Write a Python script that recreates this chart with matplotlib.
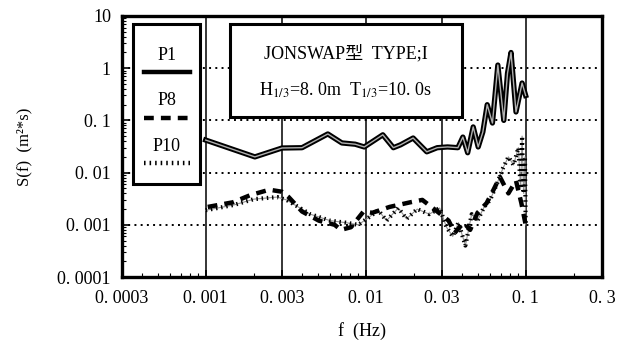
import matplotlib
matplotlib.use("Agg")
import matplotlib.pyplot as plt
from matplotlib.patches import Rectangle

plt.rcParams["font.family"] = ["Liberation Serif", "Noto Sans CJK JP"]
plt.rcParams["mathtext.fontset"] = "stix"

# ── data ───────────────────────────────────────────────────────────────────────
p1_f = [0.001, 0.00203, 0.003, 0.0040, 0.0058, 0.0071, 0.0086, 0.0098, 0.0128,
        0.0149, 0.0165, 0.0198, 0.0241, 0.028, 0.0325, 0.0377, 0.0405, 0.0434,
        0.047, 0.0505, 0.054, 0.0575, 0.062, 0.067, 0.073, 0.077, 0.081, 0.087,
        0.095, 0.1]
p1_s = [0.042, 0.020, 0.0296, 0.030, 0.055, 0.037, 0.035, 0.031, 0.053,
        0.030, 0.034, 0.046, 0.025, 0.030, 0.031, 0.030, 0.048, 0.024,
        0.075, 0.031, 0.06, 0.20, 0.089, 1.15, 0.10, 0.8, 2.0, 0.145,
        0.52, 0.3]

p8_f = [0.00103, 0.00148, 0.0019, 0.0025, 0.003, 0.0033, 0.004, 0.0051, 0.0064,
        0.007, 0.0081, 0.0097, 0.011, 0.0141, 0.019, 0.0226, 0.028, 0.033,
        0.036, 0.041, 0.045, 0.050, 0.057, 0.063, 0.069, 0.078, 0.087, 0.094, 0.1]
p8_s = [0.0022, 0.0027, 0.0037, 0.0047, 0.0043, 0.0034, 0.0018, 0.0012, 0.0010,
        0.0008, 0.0009, 0.0018, 0.0017, 0.0022, 0.0027, 0.003, 0.0018, 0.0012,
        0.0007, 0.0011, 0.0008, 0.0017, 0.0026, 0.0047, 0.0083, 0.004, 0.007,
        0.0026, 0.001]

p10_f = [0.001, 0.0015, 0.002, 0.0028, 0.0032, 0.0045, 0.006, 0.0075, 0.009,
         0.0105, 0.012, 0.0135, 0.016, 0.018, 0.021, 0.025, 0.029, 0.032, 0.035,
         0.038, 0.042, 0.046, 0.05, 0.055, 0.06, 0.066, 0.072, 0.078, 0.084,
         0.09, 0.093, 0.095, 0.097, 0.099, 0.1]
p10_s = [0.0019, 0.0024, 0.0031, 0.0034, 0.0030, 0.0016, 0.0012, 0.0011, 0.0010,
         0.0014, 0.0019, 0.0012, 0.0021, 0.0013, 0.0020, 0.0016, 0.0021, 0.0009,
         0.0006, 0.0011, 0.0004, 0.0016, 0.0012, 0.0022, 0.003, 0.006, 0.012,
         0.02, 0.014, 0.03, 0.005, 0.05, 0.004, 0.02, 0.001]

x_ticks = [0.0003, 0.001, 0.003, 0.01, 0.03, 0.1, 0.3]
x_ticklabels = ["0. 0003", "0. 001", "0. 003", "0. 01", "0. 03", "0. 1", "0. 3"]
y_ticks = [0.0001, 0.001, 0.01, 0.1, 1, 10]
y_ticklabels = ["0. 0001", "0. 001", "0. 01", "0. 1", "1", "10"]
v_grid = [0.001, 0.003, 0.01, 0.03, 0.1]
h_grid = [0.001, 0.01, 0.1, 1]

# ── figure ─────────────────────────────────────────────────────────────────────
fig = plt.figure(figsize=(6.28, 3.47), dpi=100)
ax = fig.add_axes([0.1943, 0.2017, 0.7643, 0.7522])
ax.set_xscale("log")
ax.set_yscale("log")
ax.set_xlim(0.0003, 0.3)
ax.set_ylim(0.0001, 10)

for f in v_grid:
    ax.axvline(f, color="black", lw=1.1, zorder=1)
for s in h_grid:
    ax.axhline(s, color="black", lw=1.4, ls=(0, (1, 2.2)), zorder=1)

# P1: thick outlined line
ax.plot(p1_f, p1_s, color="black", lw=3.8, zorder=4, solid_joinstyle="round")
ax.plot(p1_f, p1_s, color="#b0b0b0", lw=1.0, zorder=5)
# P8: thick dashes
ax.plot(p8_f, p8_s, color="black", lw=3.2, ls=(0, (2.2, 1.6)), zorder=4)
# P10: dotted
ax.plot(p10_f, p10_s, color="black", lw=3.0, ls=(0, (0.35, 0.9)), zorder=4)
ax.plot(p10_f, p10_s, color="#909090", lw=0.8, zorder=3)

ax.set_xticks(x_ticks, x_ticklabels)
ax.set_yticks(y_ticks, y_ticklabels)
ax.tick_params(axis="both", which="both", direction="in", labelsize=13,
               top=False, right=False)
ax.tick_params(axis="both", which="major", length=5, width=1.2)
ax.tick_params(axis="x", which="major", pad=9)
ax.tick_params(axis="y", which="major", pad=8)
ax.tick_params(axis="both", which="minor", length=3, width=0.8)
for sp in ax.spines.values():
    sp.set_linewidth(2.4)

ax.set_xlabel("f  (Hz)", fontsize=13, labelpad=11)
ax.set_ylabel("S(f)  (m²*s)", fontsize=12, labelpad=18)

# legend box (label above its line sample)
ax.add_patch(Rectangle((0.023, 0.356), 0.14, 0.613, transform=ax.transAxes,
                       facecolor="white", edgecolor="black", lw=2.2, zorder=6))
legend_rows = [("P1", dict(ls="-")), ("P8", dict(ls=(0, (2.2, 1.6)))),
               ("P10", dict(ls=(0, (0.35, 0.9))))]
for i, (lab, style) in enumerate(legend_rows):
    ty = 0.85 - i * 0.175
    ax.text(0.093, ty, lab, transform=ax.transAxes, ha="center", va="center",
            fontsize=13, zorder=7)
    ax.plot([0.045, 0.142], [ty - 0.065, ty - 0.065], transform=ax.transAxes,
            color="black", lw=3.2, zorder=7, **style)

# condition box
ax.add_patch(Rectangle((0.225, 0.613), 0.483, 0.356, transform=ax.transAxes,
                       facecolor="white", edgecolor="black", lw=2.2, zorder=6))
ax.text(0.466, 0.855, "JONSWAP型  TYPE;I", transform=ax.transAxes,
        ha="center", va="center", fontsize=13, zorder=7)
ax.text(0.466, 0.715, r"H$_{1/3}$=8. 0m  T$_{1/3}$=10. 0s", transform=ax.transAxes,
        ha="center", va="center", fontsize=13, zorder=7)

fig.savefig("out.png", dpi=100)
